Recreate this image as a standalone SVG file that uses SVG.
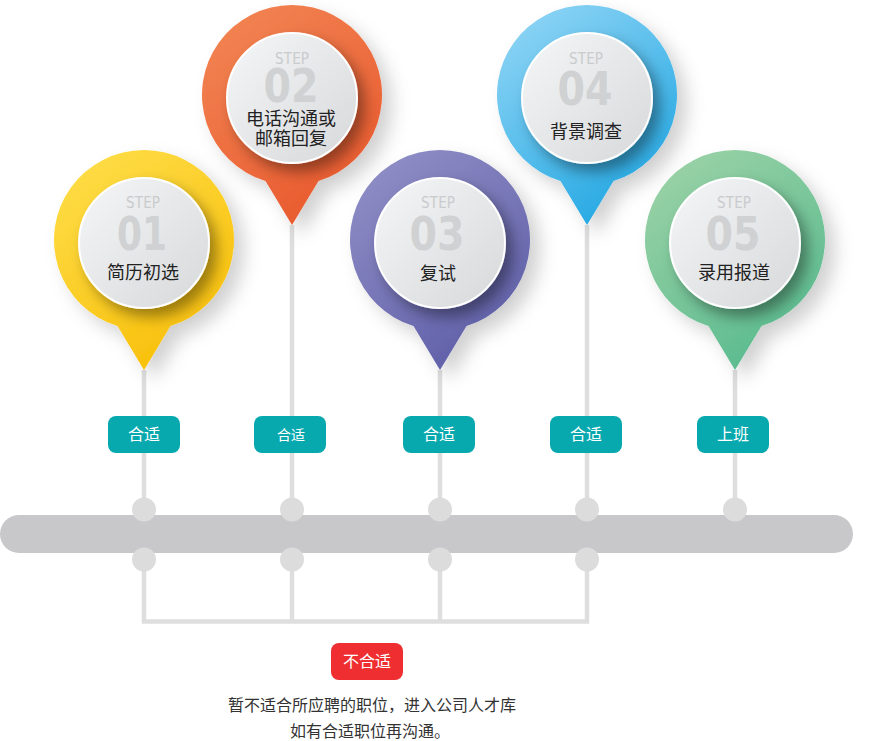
<svg xmlns="http://www.w3.org/2000/svg" width="873" height="741" viewBox="0 0 873 741">
<defs>
<style>
.cn{font-family:"Noto Sans CJK SC","Noto Sans",sans-serif}
.lbl{fill:#222;font-size:18px;text-anchor:middle}
.step{font-family:"DejaVu Sans Condensed","DejaVu Sans",sans-serif;font-size:15px;fill:#c9cbcd;text-anchor:middle}
.num{font-family:"DejaVu Sans Condensed","DejaVu Sans",sans-serif;font-weight:bold;font-size:46px;fill:#cfd1d3;text-anchor:middle}
.line{stroke:#dedede;stroke-width:4.5;fill:none}
.dot{fill:#dcdcdd}
.tag{fill:#07a9ae}
.tagt{fill:#fff;font-size:16px;text-anchor:middle}
.inner{fill:url(#gInner);stroke:#fff;stroke-width:2;filter:url(#fInner)}
.desc{fill:#333;font-size:16px;text-anchor:middle}
</style>
<linearGradient id="gInner" x1="0" y1="0" x2="1" y2="1">
<stop offset="0" stop-color="#f5f6f7"/><stop offset="1" stop-color="#d6d8da"/>
</linearGradient>
<linearGradient id="g1" x1="0.2" y1="0" x2="0.8" y2="1"><stop offset="0" stop-color="#fedd47"/><stop offset="1" stop-color="#f8bd05"/></linearGradient>
<linearGradient id="g2" x1="0.2" y1="0" x2="0.8" y2="1"><stop offset="0" stop-color="#f28453"/><stop offset="1" stop-color="#e8562b"/></linearGradient>
<linearGradient id="g3" x1="0.2" y1="0" x2="0.8" y2="1"><stop offset="0" stop-color="#908ec6"/><stop offset="1" stop-color="#5b5ba6"/></linearGradient>
<linearGradient id="g4" x1="0.2" y1="0" x2="0.8" y2="1"><stop offset="0" stop-color="#8dd4f5"/><stop offset="1" stop-color="#1ba4e1"/></linearGradient>
<linearGradient id="g5" x1="0.2" y1="0" x2="0.8" y2="1"><stop offset="0" stop-color="#9ad2a6"/><stop offset="1" stop-color="#55b98d"/></linearGradient>
<filter id="fPin" x="-30%" y="-30%" width="170%" height="170%">
<feDropShadow dx="10" dy="10" stdDeviation="9" flood-color="#000" flood-opacity="0.18"/>
</filter>
<filter id="fInner" x="-30%" y="-30%" width="170%" height="170%">
<feDropShadow dx="7" dy="8" stdDeviation="7" flood-color="#000" flood-opacity="0.38"/>
</filter>
</defs>

<g id="connectors">
<path class="line" d="M144 370V509M292 225V509M440 370V509M587 225V509M735 370V509"/>
<rect x="0" y="515" width="853" height="38" rx="19" fill="#c8c8ca"/>
<circle class="dot" cx="144" cy="509.5" r="12"/>
<circle class="dot" cx="292" cy="509.5" r="12"/>
<circle class="dot" cx="440" cy="509.5" r="12"/>
<circle class="dot" cx="587" cy="509.5" r="12"/>
<circle class="dot" cx="735" cy="509.5" r="12"/>
<path class="line" d="M144 559V621.5H587V559M292 559V621.5M440 559V621.5"/>
<circle class="dot" cx="144" cy="559.5" r="12"/>
<circle class="dot" cx="292" cy="559.5" r="12"/>
<circle class="dot" cx="440" cy="559.5" r="12"/>
<circle class="dot" cx="587" cy="559.5" r="12"/>
</g>

<g id="pin1">
<path d="M117.5 326 A90 90 0 1 1 170.5 326 L144 370 Z" fill="url(#g1)" filter="url(#fPin)"/>
<circle class="inner" cx="144" cy="243" r="65"/>
<text class="step" x="143" y="208" textLength="34" lengthAdjust="spacing">STEP</text>
<text class="num" x="142" y="250" textLength="50" lengthAdjust="spacingAndGlyphs">01</text>
<text class="cn lbl" x="143" y="279">简历初选</text>
</g>

<g id="pin2">
<path d="M265.5 181 A90 90 0 1 1 318.5 181 L292 225 Z" fill="url(#g2)" filter="url(#fPin)"/>
<circle class="inner" cx="292" cy="98" r="65"/>
<text class="step" x="292" y="64" textLength="34" lengthAdjust="spacing">STEP</text>
<text class="num" x="291" y="102" textLength="55" lengthAdjust="spacingAndGlyphs">02</text>
<text class="cn lbl" x="291" y="125">电话沟通或</text>
<text class="cn lbl" x="291" y="145">邮箱回复</text>
</g>

<g id="pin3">
<path d="M413.5 326 A90 90 0 1 1 466.5 326 L440 370 Z" fill="url(#g3)" filter="url(#fPin)"/>
<circle class="inner" cx="440" cy="243" r="65"/>
<text class="step" x="438" y="208" textLength="34" lengthAdjust="spacing">STEP</text>
<text class="num" x="437" y="250" textLength="55" lengthAdjust="spacingAndGlyphs">03</text>
<text class="cn lbl" x="438" y="280">复试</text>
</g>

<g id="pin4">
<path d="M560.5 181 A90 90 0 1 1 613.5 181 L587 225 Z" fill="url(#g4)" filter="url(#fPin)"/>
<circle class="inner" cx="587" cy="98" r="65"/>
<text class="step" x="586" y="64" textLength="34" lengthAdjust="spacing">STEP</text>
<text class="num" x="585" y="105" textLength="55" lengthAdjust="spacingAndGlyphs">04</text>
<text class="cn lbl" x="586" y="138">背景调查</text>
</g>

<g id="pin5">
<path d="M708.5 326 A90 90 0 1 1 761.5 326 L735 370 Z" fill="url(#g5)" filter="url(#fPin)"/>
<circle class="inner" cx="735" cy="243" r="65"/>
<text class="step" x="734" y="208" textLength="34" lengthAdjust="spacing">STEP</text>
<text class="num" x="733" y="250" textLength="55" lengthAdjust="spacingAndGlyphs">05</text>
<text class="cn lbl" x="734" y="279">录用报道</text>
</g>

<g id="tag1"><rect class="tag" x="108" y="416" width="72" height="37" rx="8"/><text class="cn tagt" x="144" y="440">合适</text></g>
<g id="tag2"><rect class="tag" x="254" y="416" width="72" height="37" rx="8"/><text class="cn tagt" x="291" y="440" style="font-size:14px">合适</text></g>
<g id="tag3"><rect class="tag" x="403" y="416" width="72" height="37" rx="8"/><text class="cn tagt" x="439" y="440">合适</text></g>
<g id="tag4"><rect class="tag" x="550" y="416" width="72" height="37" rx="8"/><text class="cn tagt" x="586" y="440">合适</text></g>
<g id="tag5"><rect class="tag" x="697" y="416" width="72" height="37" rx="8"/><text class="cn tagt" x="733" y="440">上班</text></g>

<g id="reject">
<rect x="331" y="643" width="72" height="37" rx="8" fill="#ee2e30"/>
<text class="cn tagt" x="367" y="667">不合适</text>
</g>
<g id="note">
<text class="cn desc" x="372" y="711">暂不适合所应聘的职位，进入公司人才库</text>
<text class="cn desc" x="370" y="737">如有合适职位再沟通。</text>
</g>
</svg>
